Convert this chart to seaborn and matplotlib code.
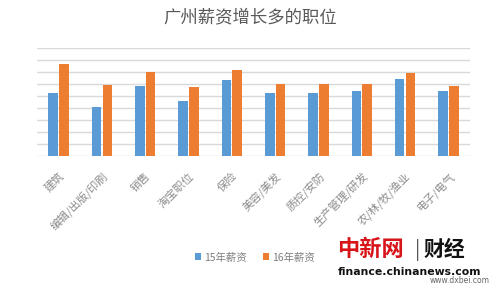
import matplotlib
matplotlib.use("Agg")
import matplotlib.pyplot as plt
import seaborn as sns
import pandas as pd

categories = ["建筑", "编辑/出版/印刷", "销售", "淘宝职位", "保险", "美容/美发",
              "质控/安防", "生产管理/研发", "农/林/牧/渔业", "电子/电气"]
salary_15 = [5.25, 4.08, 5.83, 4.58, 6.33, 5.25, 5.25, 5.44, 6.44, 5.44]
salary_16 = [7.72, 5.97, 7.02, 5.75, 7.22, 6.05, 6.05, 6.05, 6.94, 5.83]
series_names = ["15年薪资", "16年薪资"]
title = "广州薪资增长多的职位"

sns.set_theme(style="white")
plt.rcParams["font.family"] = ["Noto Sans CJK SC", "DejaVu Sans"]

df = pd.DataFrame({
    "职位": categories * 2,
    "薪资": salary_15 + salary_16,
    "年份": [series_names[0]] * len(categories) + [series_names[1]] * len(categories),
})

fig = plt.figure(figsize=(5.0, 2.94), dpi=100)
ax = fig.add_axes([0.074, 0.468, 0.866, 0.368])

sns.barplot(data=df, x="职位", y="薪资", hue="年份", order=categories,
            hue_order=series_names, palette=["#5B9BD5", "#ED7D31"],
            width=0.5, gap=0.12, ax=ax, legend=True, saturation=1,
            linewidth=0)

ax.set_ylim(0, 9)
ax.set_yticks(range(0, 10))
ax.set_yticklabels([])
ax.tick_params(axis="y", length=0)
ax.yaxis.grid(True, color="#D9D9D9", linewidth=1)
ax.set_axisbelow(True)
for s in ax.spines.values():
    s.set_visible(False)
ax.set_xlabel("")
ax.set_ylabel("")
ax.set_xlim(-0.5, len(categories) - 0.5)
ax.tick_params(axis="x", length=0, pad=10)
ax.set_xticks(range(len(categories)))
ax.set_xticklabels(categories, rotation=45, ha="right", va="top",
                   rotation_mode="anchor", fontsize=8, color="#8C8C8C")

leg = ax.legend(loc="center", bbox_to_anchor=(0.51, 0.125),
                bbox_transform=fig.transFigure, ncol=2, frameon=False,
                fontsize=7.5, handlelength=0.6, handleheight=0.6,
                handletextpad=0.3, columnspacing=1.5)
for t in leg.get_texts():
    t.set_color("#7F7F7F")

fig.text(0.5, 0.94, title, ha="center", va="center", fontsize=12.5, color="#595959")

fig.text(0.675, 0.15, "中新网", ha="left", va="center", fontsize=16,
         color="#D7141A", fontweight="bold")
fig.text(0.835, 0.15, "|", ha="center", va="center", fontsize=14, color="#555555")
fig.text(0.848, 0.15, "财经", ha="left", va="center", fontsize=15,
         color="#111111", fontweight="bold")
fig.text(0.676, 0.075, "finance.chinanews.com", ha="left", va="center",
         fontsize=7.8, color="#111111", fontweight="bold", family="DejaVu Sans")
fig.text(0.98, 0.045, "www.dxbei.com", ha="right", va="center",
         fontsize=5.5, color="#666666", family="DejaVu Sans")

fig.savefig("out.png", dpi=100)
